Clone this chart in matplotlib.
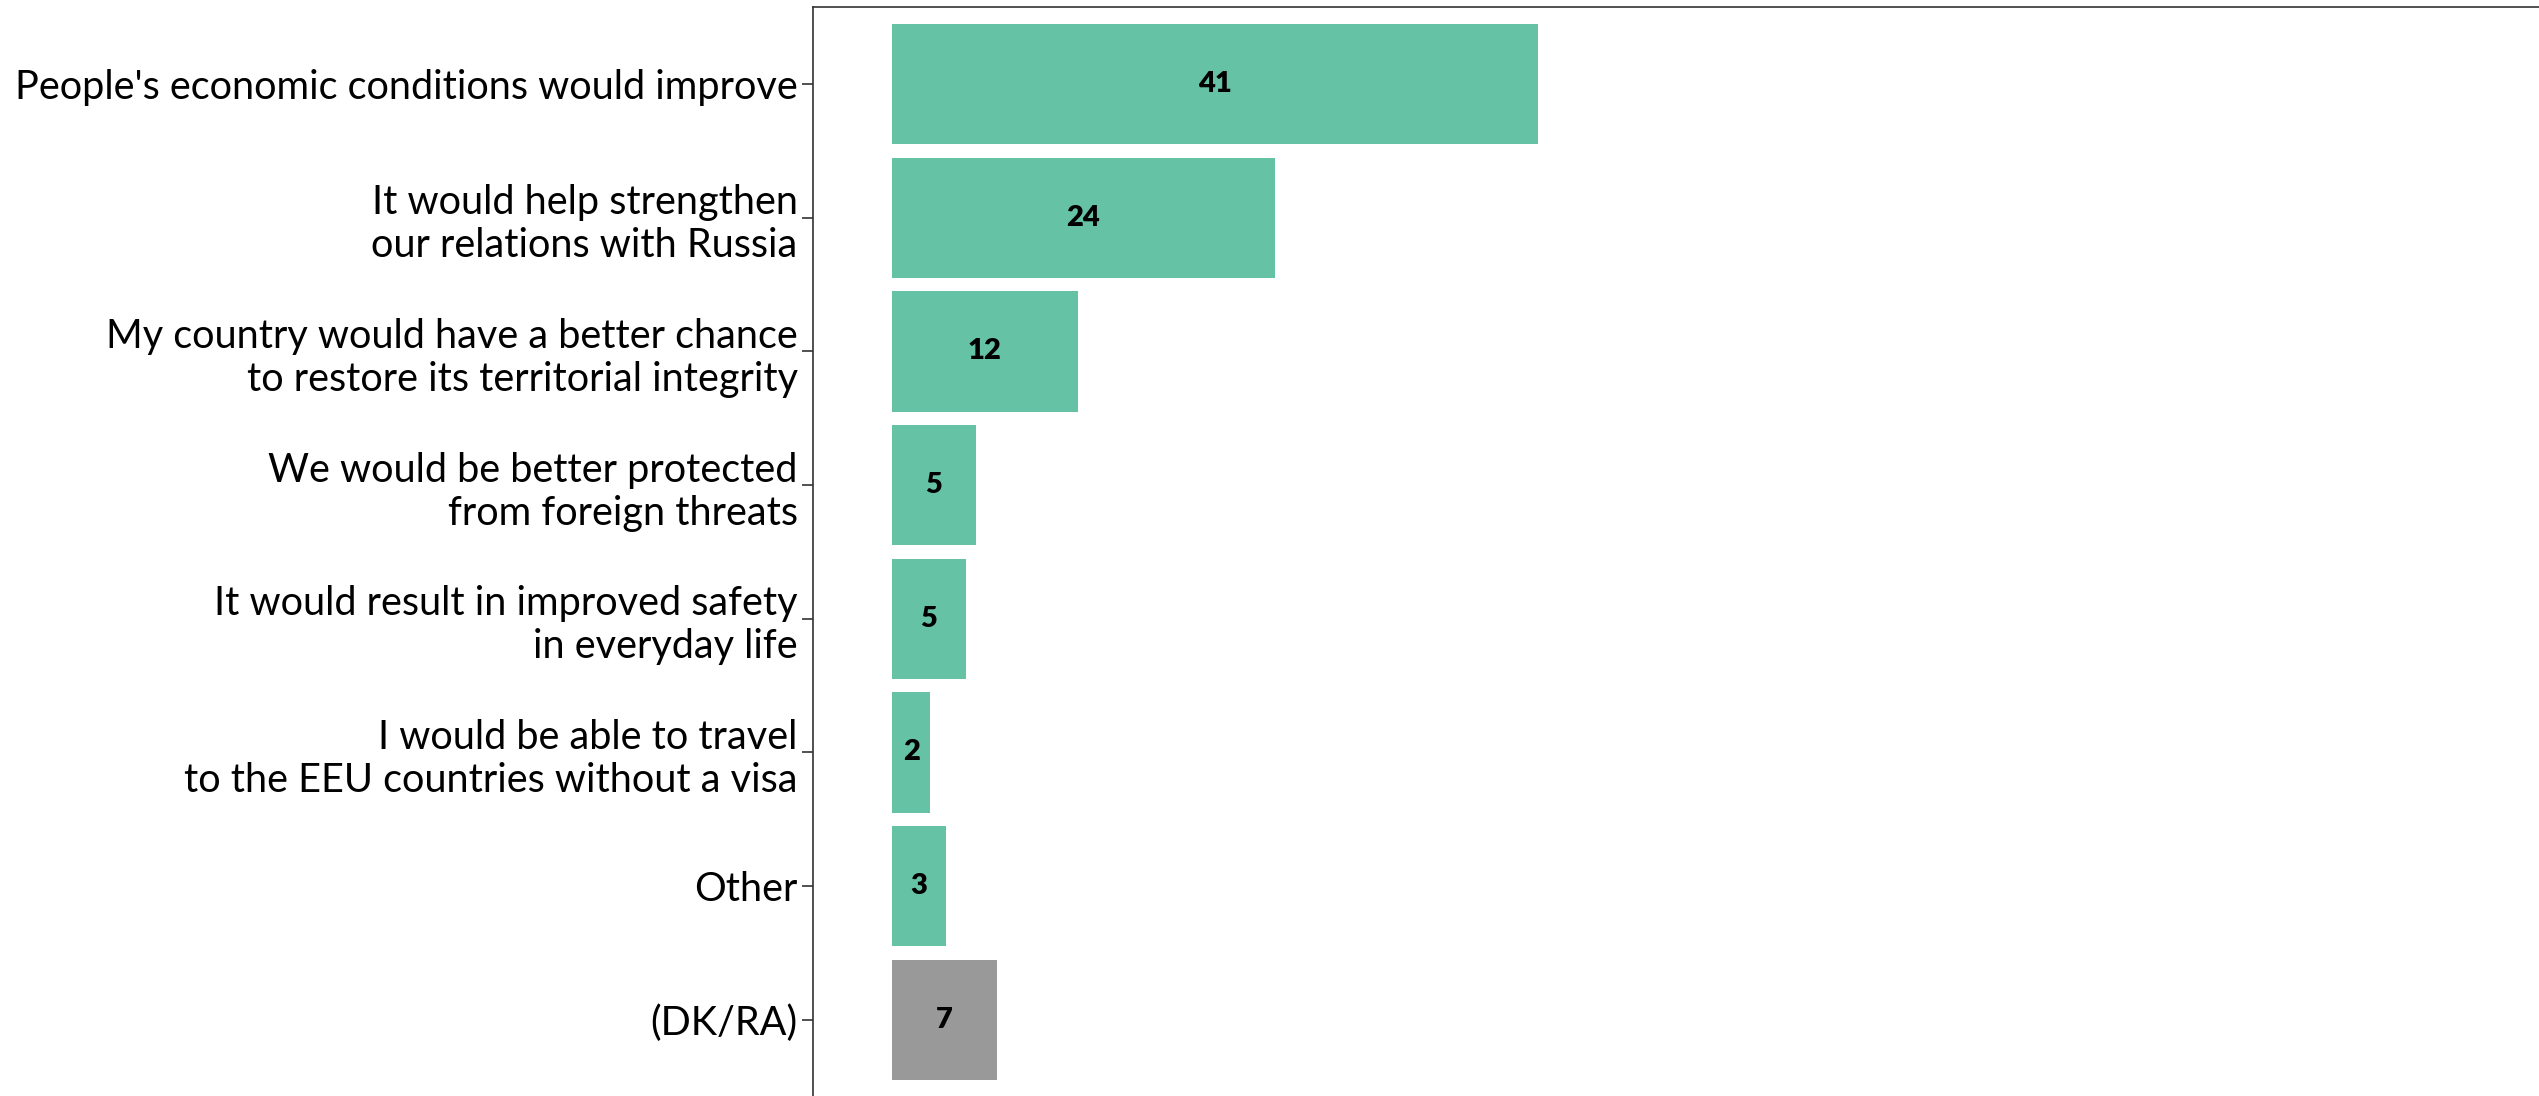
import matplotlib
matplotlib.use('Agg')
import matplotlib.pyplot as plt

# Respuestas (orden de arriba hacia abajo)
categorias = [
    "People's economic conditions would improve",
    "It would help strengthen\nour relations with Russia",
    "My country would have a better chance\nto restore its territorial integrity",
    "We would be better protected\nfrom foreign threats",
    "It would result in improved safety\nin everyday life",
    "I would be able to travel\nto the EEU countries without a visa",
    "Other",
    "(DK/RA)",
]
valores = [41.0, 24.3, 11.8, 5.35, 4.7, 2.45, 3.45, 6.65]
etiquetas = ['41', '24', '12', '5', '5', '2', '3', '7']
colores = ['#66C2A5'] * 7 + ['#999999']

fig = plt.figure(figsize=(25.39, 10.96), dpi=100)
ax = fig.add_axes([0.3202, 0.0, 0.6798, 0.994])

pos = list(range(len(categorias)))
ax.barh(pos, valores, height=0.9, color=colores)
for p, v, t in zip(pos, valores, etiquetas):
    ax.text(v / 2, p, t, ha='center', va='center', fontsize=21,
            fontweight='heavy', family='Lato', color='black')

ax.set_yticks(pos)
ax.set_yticklabels(categorias, fontsize=28.5, family='Lato', linespacing=1.2)
ax.set_ylim(7.57, -0.58)
ax.set_xlim(-5, 104.5)
ax.set_xticks([])

# Solo bordes izquierdo y superior
for lado in ['bottom', 'right']:
    ax.spines[lado].set_visible(False)
for lado in ['left', 'top']:
    ax.spines[lado].set_color('#333333')
    ax.spines[lado].set_linewidth(1.2)
ax.tick_params(axis='y', length=8, width=1.2, color='#333333', pad=3)

fig.savefig('out.png', dpi=100)
